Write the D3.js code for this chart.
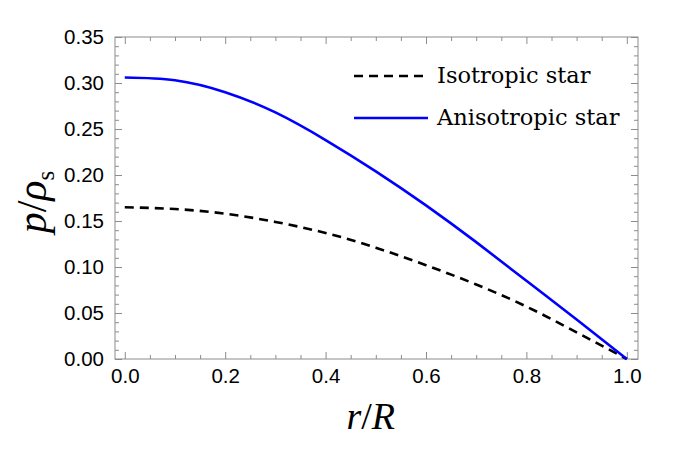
<!DOCTYPE html>
<html>
<meta charset="utf-8">
<script src="https://d3js.org/d3.v7.min.js"></script>
<style>
  body { margin: 0; background: #fff; }
</style>
<body>
<div id="chart"></div>
<script>

    // radius values (r/R) and pressures (p/rho_s)
    var rVals = [0, 0.1, 0.2, 0.3, 0.4, 0.5, 0.6, 0.7, 0.8, 0.9, 1.0];
    var isoP = [0.165, 0.163, 0.158, 0.149, 0.137, 0.121, 0.102, 0.081, 0.057, 0.029, 0.0];
    var anisoP = [0.306, 0.303, 0.290, 0.268, 0.238, 0.204, 0.167, 0.127, 0.085, 0.043, 0.0];

    var xMajor = [0, 0.2, 0.4, 0.6, 0.8, 1.0];
    var yMajor = [0, 0.05, 0.10, 0.15, 0.20, 0.25, 0.30, 0.35];
    var legendNames = ["Isotropic star", "Anisotropic star"];

    var W = 676, H = 455;
    var margin = {top: 37, right: 38, bottom: 96, left: 115},
        width = W - margin.left - margin.right,
        height = H - margin.top - margin.bottom;

    var svg = d3.select("#chart")
      .append("svg")
        .attr("width", W)
        .attr("height", H)
      .append("g")
        .attr("transform", "translate(" + margin.left + "," + margin.top + ")");

    var x = d3.scaleLinear().domain([-0.0195, 1.0223]).range([0, width]);
    var y = d3.scaleLinear().domain([0, 0.35]).range([height, 0]);

    var xMinor = d3.range(0, 1.0001, 0.05).filter(function(v) { return Math.abs(v * 5 - Math.round(v * 5)) > 1e-6; });
    var yMinor = d3.range(0, 0.3501, 0.01).filter(function(v) { return Math.abs(v * 20 - Math.round(v * 20)) > 1e-6; });

    var frameColor = "#8c8c8c";

    function styleAxis(g) {
      g.select(".domain").remove();
      g.selectAll(".tick line").attr("stroke", frameColor).attr("stroke-width", 1);
      g.selectAll("text")
        .attr("fill", "#000")
        .style("font-family", "'Liberation Sans', Arial, sans-serif")
        .style("font-size", "20.5px");
    }

    // bottom axis with labels
    svg.append("g")
      .attr("transform", "translate(0," + height + ")")
      .call(d3.axisBottom(x).tickValues(xMajor).tickSize(-7).tickPadding(9).tickFormat(d3.format(".1f")))
      .call(styleAxis);
    svg.append("g")
      .attr("transform", "translate(0," + height + ")")
      .call(d3.axisBottom(x).tickValues(xMinor).tickSize(-4).tickFormat(""))
      .call(styleAxis);
    // top ticks
    svg.append("g")
      .call(d3.axisTop(x).tickValues(xMajor).tickSize(-7).tickFormat(""))
      .call(styleAxis);
    svg.append("g")
      .call(d3.axisTop(x).tickValues(xMinor).tickSize(-4).tickFormat(""))
      .call(styleAxis);

    // left axis with labels
    svg.append("g")
      .call(d3.axisLeft(y).tickValues(yMajor).tickSize(-7).tickPadding(11).tickFormat(d3.format(".2f")))
      .call(styleAxis);
    svg.append("g")
      .call(d3.axisLeft(y).tickValues(yMinor).tickSize(-4).tickFormat(""))
      .call(styleAxis);
    // right ticks
    svg.append("g")
      .attr("transform", "translate(" + width + ",0)")
      .call(d3.axisRight(y).tickValues(yMajor).tickSize(-7).tickFormat(""))
      .call(styleAxis);
    svg.append("g")
      .attr("transform", "translate(" + width + ",0)")
      .call(d3.axisRight(y).tickValues(yMinor).tickSize(-4).tickFormat(""))
      .call(styleAxis);

    // frame
    svg.append("rect")
      .attr("x", 0).attr("y", 0)
      .attr("width", width).attr("height", height)
      .attr("fill", "none")
      .attr("stroke", frameColor)
      .attr("stroke-width", 1);

    var line = d3.line()
      .x(function(d) { return x(d[0]); })
      .y(function(d) { return y(d[1]); })
      .curve(d3.curveNatural);

    svg.append("path")
      .datum(d3.zip(rVals, isoP))
      .attr("d", line)
      .attr("fill", "none")
      .attr("stroke", "#000")
      .attr("stroke-width", 2.6)
      .attr("stroke-dasharray", "9,6");

    svg.append("path")
      .datum(d3.zip(rVals, anisoP))
      .attr("d", line)
      .attr("fill", "none")
      .attr("stroke", "#0000ff")
      .attr("stroke-width", 2.6);

    // legend
    var legend = svg.append("g").attr("transform", "translate(" + (354 - margin.left) + "," + (76 - margin.top) + ")");
    legend.append("line")
      .attr("x1", 0).attr("x2", 74).attr("y1", 0).attr("y2", 0)
      .attr("stroke", "#000").attr("stroke-width", 2.6).attr("stroke-dasharray", "9,6");
    legend.append("line")
      .attr("x1", 0).attr("x2", 74).attr("y1", 42).attr("y2", 42)
      .attr("stroke", "#0000ff").attr("stroke-width", 2.6);
    legend.selectAll("text")
      .data(legendNames)
      .enter()
      .append("text")
        .attr("x", 83)
        .attr("y", function(d, i) { return i * 42 + 7; })
        .style("font-family", "'DejaVu Serif', serif")
        .style("font-size", "22.5px")
        .text(function(d) { return d; });

    // axis titles
    var xt = svg.append("text")
      .attr("x", x(0.49))
      .attr("y", height + 70)
      .attr("text-anchor", "middle")
      .style("font-family", "'Liberation Serif', serif")
      .style("font-size", "38px");
    xt.append("tspan").style("font-style", "italic").text("r");
    xt.append("tspan").text("/");
    xt.append("tspan").style("font-style", "italic").text("R");

    var yt = svg.append("text")
      .attr("transform", "translate(" + (46 - margin.left) + "," + (202 - margin.top) + ") rotate(-90)")
      .attr("text-anchor", "middle")
      .style("font-family", "'Liberation Serif', serif")
      .style("font-size", "42px");
    yt.append("tspan").style("font-style", "italic").text("p");
    yt.append("tspan").text("/");
    yt.append("tspan").style("font-style", "italic").text("ρ");
    yt.append("tspan").attr("dy", 8).style("font-size", "25px").text("s");

</script>
</body>
</html>
